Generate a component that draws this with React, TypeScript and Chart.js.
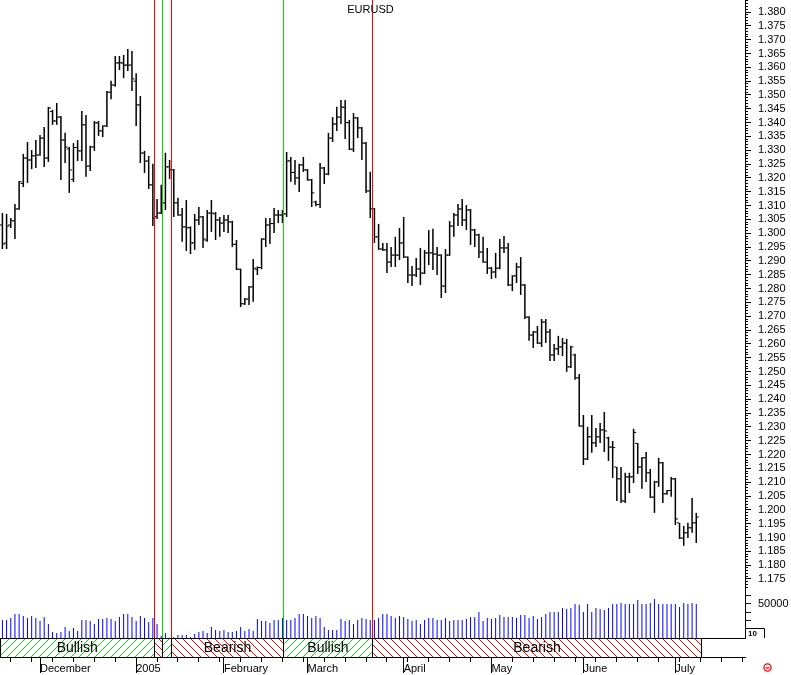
import React, { useEffect, useRef } from 'react';
import { Chart, registerables } from 'chart.js';

Chart.register(...registerables);

const FONT = '"Liberation Sans", Arial, Helvetica, sans-serif';
const TITLE = 'EURUSD';

// Daily EURUSD bars, 18 Nov 2004 .. 8 Jul 2005 (index = trading day)
const OPEN = [
  1.3030,1.2965,1.3030,1.3045,1.3088,1.3180,1.3272,1.3265,1.3280,1.3283,
  1.3344,1.3272,1.3440,1.3406,1.3420,1.3337,1.3305,1.3195,1.3310,1.3298,
  1.3392,1.3243,1.3312,1.3399,1.3370,1.3388,1.3510,1.3536,1.3616,1.3616,
  1.3608,1.3608,1.3550,1.3464,1.3290,1.3261,1.3175,1.3060,1.3073,1.3110,
  1.3240,1.3229,1.3110,1.3066,1.3023,1.3020,1.2965,1.3048,1.3059,1.2975,
  1.3073,1.3070,1.3048,1.3037,1.3048,1.3041,1.2960,1.2870,1.2745,1.2762,
  1.2806,1.2870,1.2876,1.2979,1.3030,1.3035,1.3066,1.3066,1.3070,1.3262,
  1.3220,1.3200,1.3247,1.3229,1.3193,1.3113,1.3104,1.3236,1.3214,1.3344,
  1.3395,1.3420,1.3455,1.3400,1.3304,1.3417,1.3381,1.3326,1.3153,1.3088,
  1.2987,1.2943,1.2940,1.2896,1.2921,1.2921,1.2965,1.2914,1.2849,1.2849,
  1.2871,1.2856,1.2929,1.2929,1.2925,1.2921,1.2809,1.2921,1.3026,1.3066,
  1.3088,1.3048,1.3084,1.3012,1.2994,1.2932,1.2896,1.2874,1.2860,1.2874,
  1.2947,1.2947,1.2813,1.2846,1.2878,1.2813,1.2697,1.2632,1.2643,1.2603,
  1.2679,1.2643,1.2560,1.2582,1.2589,1.2603,1.2517,1.2560,1.2477,1.2303,
  1.2184,1.2264,1.2242,1.2264,1.2289,1.2260,1.2227,1.2155,1.2112,1.2032,
  1.2119,1.2120,1.2240,1.2155,1.2188,1.2134,1.2046,1.2101,1.2170,1.2058,
  1.2070,1.2112,1.1953,1.1898,1.1917,1.1935,1.1953,
];
const HIGH = [
  1.3073,1.3070,1.3055,1.3106,1.3189,1.3287,1.3330,1.3301,1.3337,1.3355,
  1.3384,1.3457,1.3446,1.3471,1.3424,1.3363,1.3312,1.3326,1.3337,1.3442,
  1.3428,1.3316,1.3406,1.3406,1.3390,1.3514,1.3551,1.3641,1.3641,1.3645,
  1.3666,1.3659,1.3579,1.3496,1.3298,1.3280,1.3251,1.3124,1.3175,1.3291,
  1.3265,1.3232,1.3128,1.3091,1.3120,1.3025,1.3070,1.3095,1.3062,1.3084,
  1.3120,1.3077,1.3059,1.3066,1.3066,1.3045,1.2976,1.2872,1.2766,1.2809,
  1.2907,1.2880,1.2982,1.3055,1.3055,1.3091,1.3084,1.3084,1.3294,1.3276,
  1.3265,1.3251,1.3276,1.3232,1.3196,1.3118,1.3254,1.3240,1.3363,1.3420,
  1.3457,1.3482,1.3482,1.3410,1.3435,1.3420,1.3384,1.3330,1.3222,1.3091,
  1.3034,1.2965,1.2965,1.2950,1.2987,1.3019,1.3059,1.2916,1.2882,1.2911,
  1.2947,1.2940,1.3012,1.3016,1.2950,1.2924,1.2943,1.3044,1.3073,1.3106,
  1.3124,1.3102,1.3088,1.3016,1.2998,1.2987,1.2947,1.2878,1.2929,1.2979,
  1.2990,1.2965,1.2848,1.2893,1.2914,1.2817,1.2700,1.2647,1.2665,1.2690,
  1.2690,1.2654,1.2600,1.2629,1.2621,1.2618,1.2593,1.2564,1.2491,1.2343,
  1.2300,1.2343,1.2296,1.2314,1.2354,1.2264,1.2249,1.2155,1.2155,1.2134,
  1.2134,1.2293,1.2242,1.2191,1.2209,1.2148,1.2105,1.2188,1.2173,1.2072,
  1.2119,1.2115,1.1953,1.1942,1.1953,1.2043,1.1989,
];
const LOW = [
  1.2943,1.2943,1.3019,1.2979,1.3085,1.3167,1.3182,1.3232,1.3236,1.3280,
  1.3240,1.3258,1.3392,1.3392,1.3193,1.3254,1.3146,1.3185,1.3261,1.3261,
  1.3204,1.3225,1.3298,1.3352,1.3348,1.3384,1.3485,1.3530,1.3590,1.3561,
  1.3587,1.3514,1.3388,1.3254,1.3218,1.3160,1.3026,1.3052,1.3070,1.3084,
  1.3196,1.3059,1.3063,1.2969,1.2936,1.2925,1.2940,1.3030,1.2947,1.2969,
  1.3005,1.2976,1.2987,1.3005,1.3001,1.2950,1.2867,1.2733,1.2741,1.2741,
  1.2752,1.2849,1.2870,1.2950,1.2961,1.3001,1.3037,1.3037,1.3059,1.3186,
  1.3175,1.3149,1.3222,1.3190,1.3095,1.3098,1.3091,1.3178,1.3210,1.3330,
  1.3370,1.3395,1.3341,1.3301,1.3294,1.3344,1.3265,1.3146,1.3055,1.2965,
  1.2940,1.2936,1.2856,1.2878,1.2878,1.2903,1.2911,1.2820,1.2809,1.2842,
  1.2813,1.2853,1.2885,1.2867,1.2849,1.2766,1.2784,1.2918,1.2987,1.3026,
  1.3026,1.3012,1.2958,1.2950,1.2911,1.2893,1.2853,1.2835,1.2838,1.2870,
  1.2929,1.2809,1.2791,1.2820,1.2777,1.2690,1.2611,1.2585,1.2600,1.2589,
  1.2603,1.2538,1.2538,1.2560,1.2556,1.2499,1.2513,1.2470,1.2300,1.2162,
  1.2180,1.2206,1.2227,1.2242,1.2209,1.2177,1.2115,1.2032,1.2025,1.2025,
  1.2061,1.2097,1.2130,1.2076,1.2101,1.2043,1.1989,1.2083,1.2025,1.2055,
  1.2047,1.1945,1.1895,1.1870,1.1898,1.1917,1.1880,
];
const CLOSE = [
  1.2961,1.3026,1.3045,1.3088,1.3186,1.3272,1.3265,1.3280,1.3283,1.3344,
  1.3272,1.3453,1.3406,1.3420,1.3337,1.3312,1.3229,1.3310,1.3298,1.3392,
  1.3243,1.3312,1.3399,1.3370,1.3388,1.3510,1.3536,1.3616,1.3616,1.3608,
  1.3608,1.3558,1.3464,1.3290,1.3261,1.3175,1.3055,1.3073,1.3110,1.3240,
  1.3229,1.3110,1.3066,1.3023,1.3020,1.2965,1.3048,1.3059,1.2979,1.3073,
  1.3073,1.3048,1.3037,1.3048,1.3041,1.2960,1.2870,1.2745,1.2762,1.2806,
  1.2874,1.2876,1.2979,1.3030,1.3035,1.3066,1.3066,1.3070,1.3261,1.3220,
  1.3200,1.3247,1.3229,1.3193,1.3146,1.3104,1.3236,1.3214,1.3344,1.3395,
  1.3420,1.3457,1.3400,1.3304,1.3417,1.3381,1.3326,1.3153,1.3088,1.2987,
  1.2943,1.2940,1.2896,1.2921,1.2921,1.2965,1.2914,1.2849,1.2849,1.2871,
  1.2856,1.2929,1.2929,1.2925,1.2921,1.2809,1.2921,1.3026,1.3066,1.3088,
  1.3048,1.3084,1.3012,1.2994,1.2932,1.2896,1.2874,1.2860,1.2874,1.2947,
  1.2947,1.2813,1.2846,1.2878,1.2813,1.2697,1.2632,1.2643,1.2603,1.2679,
  1.2643,1.2560,1.2582,1.2589,1.2603,1.2517,1.2589,1.2477,1.2303,1.2184,
  1.2264,1.2242,1.2264,1.2289,1.2285,1.2227,1.2225,1.2112,1.2032,1.2119,
  1.2119,1.2280,1.2155,1.2188,1.2134,1.2046,1.2101,1.2170,1.2058,1.2070,
  1.2112,1.1967,1.1898,1.1917,1.1935,1.1953,1.1974,
];
const VOLUME = [
  26500,26500,29400,35300,35300,32300,29400,32300,29400,25000,
  30900,20600,8800,7400,8800,16200,10300,14700,10300,26500,
  26500,25000,20600,27900,27900,29400,27900,25000,30900,35300,
  35300,30900,25000,32300,29400,23500,29400,20600,2900,7400,
  500,1500,4400,4400,4400,1500,5900,8800,10300,7400,
  16200,11800,10300,11800,8800,8800,10300,16200,10300,13200,
  10300,27900,25000,25000,22100,26500,26500,29400,26500,26500,
  29400,35300,35300,32300,29400,32300,29400,16200,11800,11800,
  11800,27900,25000,26500,20600,26500,29400,27900,26500,26500,
  29400,35300,35300,32300,29400,32300,30900,27900,25000,26500,
  20600,26500,29400,29400,26500,26500,29400,25000,26500,26500,
  26500,27900,30900,30900,38200,25000,29400,27900,29400,33800,
  30900,30900,30900,29400,33800,33800,29400,32300,27900,30900,
  35300,38200,38200,38200,44100,42600,44100,50000,49000,38200,
  50000,38200,44100,42600,41200,44100,50000,50000,51500,50000,
  50000,50000,55900,50000,50000,51500,57300,50000,50000,50000,
  50000,50000,45600,51500,50000,51500,50000,
];

// Time axis: Monday ticks and first trading day of each month (trading-day index)
const WEEK_TICKS = [2,7,12,17,22,27,32,37,42,47,52,57,62,67,72,77,82,87,92,97,102,107,112,117,122,127,132,137,142,147,152,157,162,167,172,177];
const MONTH_TICKS = [9, 32, 53, 73, 96, 117, 139, 161];
const MONTH_LABELS = ['December', '2005', 'February', 'March', 'April', 'May', 'June', 'July'];

const PRICE_TICKS = [
  1.175,1.180,1.185,1.190,1.195,1.200,1.205,1.210,1.215,1.220,1.225,1.230,1.235,1.240,
  1.245,1.250,1.255,1.260,1.265,1.270,1.275,1.280,1.285,1.290,1.295,1.300,1.305,1.310,
  1.315,1.320,1.325,1.330,1.335,1.340,1.345,1.350,1.355,1.360,1.365,1.370,1.375,1.380,
];
const VOL_TICKS = [25000, 37500, 50000, 62500];
const VOL_LABELED = [50000];

// Signal lines (trading-day positions) and signal band
const SIGNAL_LINES = [36.39, 38.30, 40.45, 67.25, 88.54];
const SIGNAL_COLORS = ['#ff0000', '#00e000', '#ff0000', '#00e000', '#ff0000'];
const BAND_STARTS = [-0.574, 36.39, 38.30, 40.45, 67.25, 88.54];
const BAND_ENDS = [36.39, 38.30, 40.45, 67.25, 88.54, 167.25];
const BAND_TYPES = ['Bullish', 'Bearish', 'Bullish', 'Bearish', 'Bullish', 'Bearish'];
const BAND_SHOW_LABEL = [true, false, false, true, true, true];
const BAND_EDGES = [-0.45, 36.39, 38.30, 40.45, 67.25, 88.54, 167.25];

const X_MIN = -0.574;
const X_MAX = 177.66;
const PRICE_MIN = 1.17102;
const PRICE_MAX = 1.38434;
const VOL_MAX = 70588;
const TICK_OFF = 0.36;

function align(p: number) {
  return Math.round(p - 0.5) + 0.5;
}

function makeHatch(color: string, up: boolean): CanvasPattern {
  const c = document.createElement('canvas');
  c.width = 8;
  c.height = 8;
  const g = c.getContext('2d')!;
  g.fillStyle = color;
  for (let i = 0; i < 8; i++) g.fillRect(i, up ? 7 - i : i, 1, 1);
  return g.createPattern(c, 'repeat')!;
}

const decor = {
  id: 'decor',
  afterDatasetsDraw(chart: any) {
    const { ctx, chartArea } = chart;
    const xs = chart.scales.x;
    const yb = chart.scales.yBand;
    ctx.save();
    ctx.lineWidth = 1;
    SIGNAL_LINES.forEach((v, k) => {
      const px = align(xs.getPixelForValue(v));
      ctx.strokeStyle = SIGNAL_COLORS[k];
      ctx.beginPath();
      ctx.moveTo(px, chartArea.top);
      ctx.lineTo(px, yb.top);
      ctx.stroke();
    });
    ctx.fillStyle = '#000';
    ctx.font = `14px ${FONT}`;
    ctx.textAlign = 'center';
    ctx.textBaseline = 'middle';
    BAND_STARTS.forEach((s, k) => {
      if (!BAND_SHOW_LABEL[k]) return;
      const cx = (xs.getPixelForValue(s) + xs.getPixelForValue(BAND_ENDS[k])) / 2;
      ctx.fillText(BAND_TYPES[k], cx, (yb.top + yb.bottom) / 2 + 1);
    });
    ctx.restore();
  },
  afterDraw(chart: any) {
    const { ctx, chartArea } = chart;
    const xs = chart.scales.x;
    const yp = chart.scales.y;
    const yv = chart.scales.yVol;
    ctx.save();
    ctx.strokeStyle = '#000';
    ctx.lineWidth = 1;
    // minor price ticks every 0.001
    ctx.beginPath();
    for (let k = 1171; k <= 1384; k++) {
      if (k % 5 === 0) continue;
      const py = align(yp.getPixelForValue(k / 1000));
      if (py < yp.top || py > yp.bottom) continue;
      ctx.moveTo(yp.left, py);
      ctx.lineTo(yp.left + 3, py);
    }
    ctx.stroke();
    // long month ticks
    ctx.beginPath();
    MONTH_TICKS.forEach((v) => {
      const px = align(xs.getPixelForValue(v));
      ctx.moveTo(px, xs.top);
      ctx.lineTo(px, xs.top + 16);
    });
    ctx.stroke();
    // title
    ctx.fillStyle = '#000';
    ctx.font = `11px ${FONT}`;
    ctx.textAlign = 'center';
    ctx.textBaseline = 'middle';
    ctx.fillText(TITLE, (chartArea.left + chartArea.right) / 2 - 2, 10);
    // small scale box
    const bTop = yv.bottom - 10 + 0.5;
    ctx.beginPath();
    ctx.moveTo(yv.left, bTop);
    ctx.lineTo(yv.left + 19.5, bTop);
    ctx.lineTo(yv.left + 19.5, yv.bottom);
    ctx.stroke();
    ctx.font = `bold 8px ${FONT}`;
    ctx.textAlign = 'left';
    ctx.fillText('10', yv.left + 3, bTop + 5);
    // red status icon
    ctx.strokeStyle = '#ff0000';
    ctx.lineWidth = 1.3;
    ctx.beginPath();
    ctx.arc(chartArea.right + 22.5, xs.top + 10.5, 3.6, 0, Math.PI * 2);
    ctx.stroke();
    ctx.beginPath();
    ctx.moveTo(chartArea.right + 20.5, xs.top + 11);
    ctx.lineTo(chartArea.right + 24.5, xs.top + 11);
    ctx.stroke();
    ctx.restore();
  },
};

export default function App() {
  const ref = useRef<HTMLCanvasElement>(null);

  useEffect(() => {
    const canvas = ref.current!;
    Chart.defaults.font.family = FONT;
    const green = makeHatch('#00e000', true);
    const red = makeHatch('#ff0000', false);
    const idx = OPEN.map((_, i) => i);

    const datasets: any[] = [
      {
        type: 'bar', label: 'HL',
        data: idx.map((i) => ({ x: i, y: [LOW[i], HIGH[i]] })),
        xAxisID: 'x', yAxisID: 'y',
        backgroundColor: '#000', borderWidth: 0, barThickness: 1.5,
        grouped: false, inflateAmount: 0,
      },
      {
        type: 'line', label: 'Open',
        data: idx.map((i) => ({ x: i - TICK_OFF, y: OPEN[i] })),
        xAxisID: 'x', yAxisID: 'y', showLine: false,
        pointStyle: 'line', pointRadius: 1.1, pointBorderWidth: 1,
        pointBorderColor: '#000', pointBackgroundColor: '#000',
      },
      {
        type: 'line', label: 'Close',
        data: idx.map((i) => ({ x: i + TICK_OFF, y: CLOSE[i] })),
        xAxisID: 'x', yAxisID: 'y', showLine: false,
        pointStyle: 'line', pointRadius: 1.1, pointBorderWidth: 1,
        pointBorderColor: '#000', pointBackgroundColor: '#000',
      },
      {
        type: 'bar', label: 'Volume',
        data: idx.map((i) => ({ x: i, y: VOLUME[i] })),
        xAxisID: 'x', yAxisID: 'yVol',
        backgroundColor: '#0000ff', borderWidth: 0, barThickness: 1,
        grouped: false, inflateAmount: 0,
      },
      ...BAND_EDGES.map((e) => ({
        type: 'line', label: 'edge',
        data: [{ x: e, y: 0 }, { x: e, y: 1 }],
        xAxisID: 'x', yAxisID: 'yBand',
        borderColor: '#000', borderWidth: 1, pointRadius: 0, fill: false,
      })),
      ...BAND_STARTS.map((s, k) => ({
        type: 'line', label: BAND_TYPES[k],
        data: [{ x: s, y: 1 }, { x: BAND_ENDS[k], y: 1 }],
        xAxisID: 'x', yAxisID: 'yBand',
        borderColor: 'rgba(0,0,0,0)', borderWidth: 1, pointRadius: 0,
        fill: 'origin',
        backgroundColor: BAND_TYPES[k] === 'Bullish' ? green : red,
      })),
    ];

    const fixRight = (s: any) => {
      s.width = 46;
      s.paddingTop = 0;
      s.paddingBottom = 0;
    };

    const chart = new Chart(canvas, {
      type: 'bar',
      data: { datasets },
      options: {
        responsive: false,
        animation: false,
        devicePixelRatio: 1,
        events: [],
        layout: { padding: 0, autoPadding: false },
        plugins: {
          legend: { display: false },
          tooltip: { enabled: false },
          title: { display: false },
        },
        scales: {
          x: {
            type: 'linear', position: 'bottom', min: X_MIN, max: X_MAX, offset: false,
            afterBuildTicks: (s: any) => {
              const all = Array.from(new Set([...WEEK_TICKS, ...MONTH_TICKS])).sort((a, b) => a - b);
              s.ticks = all.map((v) => ({ value: v }));
            },
            afterFit: (s: any) => {
              s.height = 18;
              s.paddingLeft = 0;
              s.paddingRight = 0;
            },
            ticks: {
              autoSkip: false, maxRotation: 0, minRotation: 0, align: 'start', padding: 0,
              color: '#000', font: { family: FONT, size: 11 },
              callback: (v: any) => {
                const k = MONTH_TICKS.indexOf(Number(v));
                return k >= 0 ? MONTH_LABELS[k] : '';
              },
            },
            grid: { display: true, offset: false, drawOnChartArea: false, drawTicks: true, tickLength: 5, color: '#000', tickColor: '#000' },
            border: { display: true, color: '#000', width: 1, z: 1 },
          },
          y: {
            type: 'linear', position: 'right', stack: 'panes', stackWeight: 590,
            min: PRICE_MIN, max: PRICE_MAX,
            afterBuildTicks: (s: any) => { s.ticks = PRICE_TICKS.map((v) => ({ value: v })); },
            afterFit: fixRight,
            ticks: {
              autoSkip: false, padding: 7, color: '#000', font: { family: FONT, size: 11 },
              callback: (v: any) => Number(v).toFixed(3),
            },
            grid: { drawOnChartArea: false, tickLength: 6, color: '#000' },
            border: { display: true, color: '#000' },
          },
          yVol: {
            type: 'linear', position: 'right', stack: 'panes', stackWeight: 48,
            min: 0, max: VOL_MAX,
            afterBuildTicks: (s: any) => { s.ticks = VOL_TICKS.map((v) => ({ value: v })); },
            afterFit: fixRight,
            ticks: {
              autoSkip: false, padding: 7, color: '#000', font: { family: FONT, size: 11 },
              callback: (v: any) => (VOL_LABELED.includes(Number(v)) ? String(v) : ''),
            },
            grid: { drawOnChartArea: false, tickLength: 6, color: '#000' },
            border: { display: true, color: '#000' },
          },
          yBand: {
            type: 'linear', position: 'right', stack: 'panes', stackWeight: 19,
            min: 0, max: 1,
            afterBuildTicks: (s: any) => { s.ticks = [{ value: 1 }]; },
            afterFit: fixRight,
            ticks: { display: false },
            grid: { display: true, drawOnChartArea: true, drawTicks: false, color: '#000', z: 1 },
            border: { display: false },
          },
        },
      } as any,
      plugins: [decor],
    });
    return () => chart.destroy();
  }, []);

  return (
    <div style={{ position: 'absolute', left: 0, top: 0, width: 791, height: 675, background: '#fff' }}>
      <canvas ref={ref} width={791} height={675} style={{ display: 'block' }} />
    </div>
  );
}
